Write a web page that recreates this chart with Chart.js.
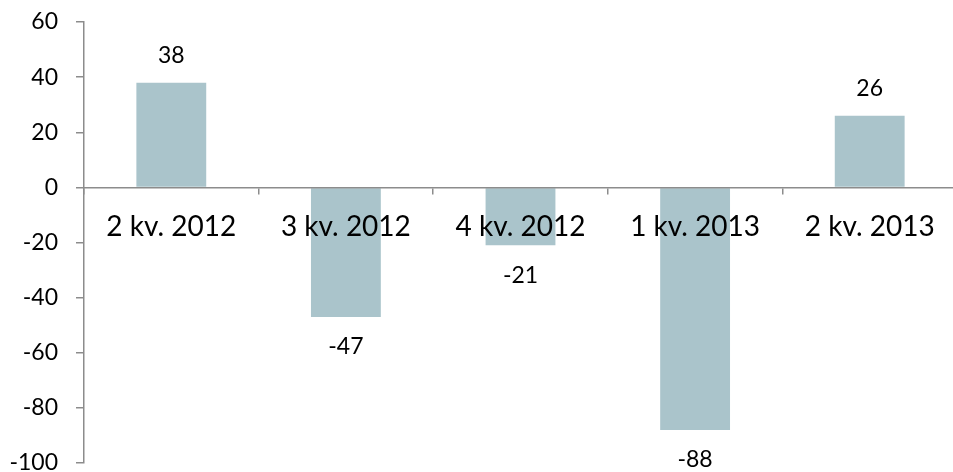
<!DOCTYPE html>
<html>
<head>
<meta charset="utf-8">
<script src="https://cdn.jsdelivr.net/npm/chart.js@4"></script>
<style>
  html, body { margin: 0; padding: 0; background: #fff; overflow: hidden; }
  #wrap { width: 962px; height: 472px; }
</style>
</head>
<body>
<div id="wrap"><canvas id="myChart"></canvas></div>
<script>
const categories = ['2 kv. 2012', '3 kv. 2012', '4 kv. 2012', '1 kv. 2013', '2 kv. 2013']
const values = [38, -47, -21, -88, 26]
const yTicks = [-100, -80, -60, -40, -20, 0, 20, 40, 60]

// value labels above / below each bar
const valueLabels = {
    id: 'valueLabels',
    afterDatasetsDraw(chart) {
        const ctx = chart.ctx
        const meta = chart.getDatasetMeta(0)
        ctx.save()
        ctx.font = '23px Lato'
        ctx.fillStyle = '#000'
        ctx.textAlign = 'center'
        ctx.textBaseline = 'middle'
        meta.data.forEach((bar, i) => {
            const v = values[i]
            const y = v >= 0 ? bar.y - 27 : bar.y + 30
            ctx.fillText(String(v), bar.x, y)
        })
        ctx.restore()
    }
}

const data = {
    labels: categories,
    datasets: [{
        data: values,
        backgroundColor: '#aac4cb',
        borderWidth: 0,
        barPercentage: 0.4,
        categoryPercentage: 1
    }]
}

const config = {
    type: 'bar',
    data: data,
    options: {
        responsive: true,
        maintainAspectRatio: false,
        animation: false,
        layout: { padding: { top: 22, bottom: 9, right: 5, left: 0 } },
        plugins: {
            legend: { display: false },
            tooltip: { enabled: false }
        },
        scales: {
            x: {
                position: { y: 0 },
                afterFit: (scale) => {
                    scale.paddingTop = 0
                    scale.paddingBottom = 0
                },
                grid: {
                    drawOnChartArea: false,
                    drawTicks: true,
                    tickLength: 6,
                    color: '#8c8c8c',
                    lineWidth: 1.5
                },
                border: { color: '#8c8c8c', width: 1.5, z: 1 },
                ticks: {
                    z: 1,
                    color: '#000',
                    font: { family: 'Lato', size: 28 },
                    padding: 17,
                    maxRotation: 0
                }
            },
            y: {
                min: -100,
                max: 60,
                afterFit: (scale) => {
                    scale.width = 84
                    scale.paddingTop = 0
                    scale.paddingBottom = 0
                },
                afterBuildTicks: (scale) => {
                    scale.ticks = yTicks.map(v => ({ value: v }))
                },
                grid: {
                    drawOnChartArea: false,
                    drawTicks: true,
                    tickLength: 8,
                    color: '#8c8c8c',
                    lineWidth: 1.5
                },
                border: { color: '#8c8c8c', width: 1.5 },
                ticks: {
                    color: '#000',
                    font: { family: 'Lato', size: 23 },
                    padding: 18
                }
            }
        }
    },
    plugins: [valueLabels]
}

let chartCanvas = new Chart(
    document.querySelector('#myChart'),
    config
)
</script>
</body>
</html>
